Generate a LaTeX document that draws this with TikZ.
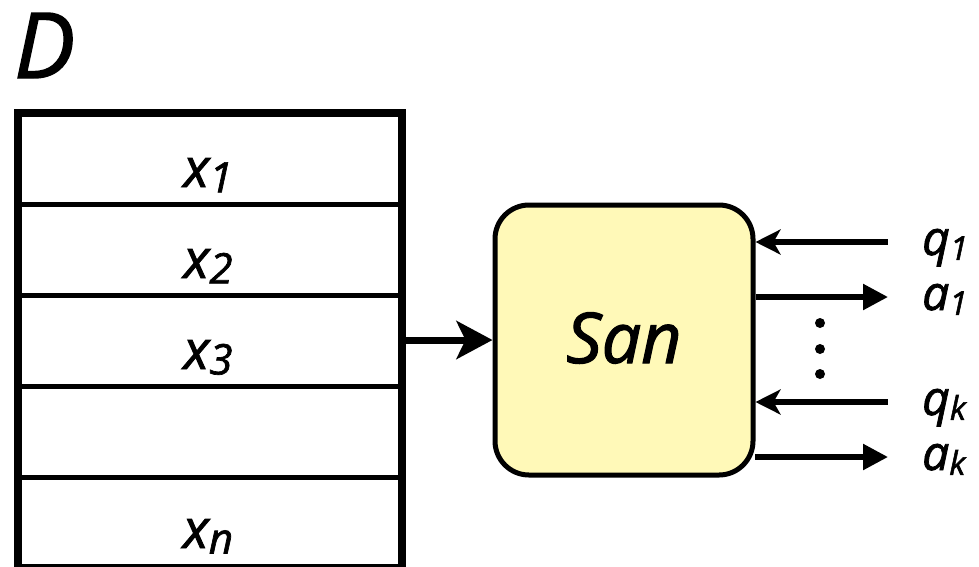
\documentclass[tikz,border=0pt]{standalone}
\usepackage{fontspec}
\setmainfont{Open Sans}
\newfontfamily\gfont{Open Sans}[FakeBold=1.6, ItalicFeatures={FakeBold=1.6}]
\usetikzlibrary{arrows.meta,fit}
\definecolor{sanfill}{RGB}{255,249,184}
\newcommand\sbs[2][0.7]{\raisebox{-0.1em}{\scalebox{#1}{#2}}}
\tikzset{
  rowbox/.style={draw, line width=5pt, minimum width=384pt, minimum height=91pt, inner sep=0pt, outer sep=0pt},
  rowtext/.style={anchor=base, inner sep=0pt, font=\fontsize{54}{54}\gfont\itshape},
  lbl/.style={anchor=base west, inner sep=0pt, font=\fontsize{48}{48}\gfont\itshape},
  dotnode/.style={circle, fill=black, inner sep=0pt, minimum size=10pt},
  inarrow/.style={line width=5.5pt, {Stealth[length=25pt,width=25pt,inset=7pt]}-},
  outarrow/.style={line width=5.5pt, -{Triangle[length=25pt,width=25pt]}}
}
\begin{document}
\begin{tikzpicture}[x=1pt,y=-1pt]
\useasboundingbox (0,0) rectangle (979,566);
% label D
\node[anchor=base west, inner sep=0pt, font=\fontsize{91}{91}\gfont\itshape] (dlabel) at (14,78) {D};
% table rows
\node[rowbox] (r1) at (210,158.5) {};
\node[rowbox] (r2) at (210,249.5) {};
\node[rowbox] (r3) at (210,340.5) {};
\node[rowbox] (r4) at (210,431.5) {};
\node[rowbox] (r5) at (210,522.5) {};
\node[draw, line width=8pt, fit=(r1)(r5), inner sep=0pt] (table) {};
\node[rowtext] (t1) at (208,187) {x\sbs[0.78]{1}};
\node[rowtext] (t2) at (208,278) {x\sbs[0.78]{2}};
\node[rowtext] (t3) at (208,369) {x\sbs[0.78]{3}};
\node[rowtext] (tn) at (208,548) {x\sbs[0.78]{n}};
% San box
\node[draw, line width=5pt, fill=sanfill, rounded corners=34pt, minimum width=258pt, minimum height=270pt, inner sep=0pt] (san) at (624,340) {};
\node[anchor=base, inner sep=0pt, font=\fontsize{70}{70}\gfont\itshape] (santext) at (624,363) {San};
% main arrow
\draw[line width=7pt, -{Stealth[length=36pt,width=38pt,inset=9pt]}] (table.east |- san.west) -- (san.west);
% right side arrows
\coordinate (q1e) at (888,242);
\coordinate (a1e) at (888,297);
\coordinate (qke) at (888,402);
\coordinate (ake) at (888,457);
\coordinate (aks) at (755,457);
\draw[inarrow] (san.east |- q1e) -- (q1e);
\draw[outarrow] (san.east |- a1e) -- (a1e);
\draw[inarrow] (san.east |- qke) -- (qke);
\draw[outarrow] (aks) -- (ake);
% labels
\node[lbl] (q1) at (922,255) {q\sbs[0.68]{1}};
\node[lbl] (a1) at (922,310) {a\sbs[0.68]{1}};
\node[lbl] (qk) at (922,415) {q\sbs[0.68]{k}};
\node[lbl] (ak) at (922,470) {a\sbs[0.68]{k}};
% dots
\node[dotnode] (d1) at (820,323) {};
\node[dotnode] (d2) at (820,349) {};
\node[dotnode] (d3) at (820,374) {};
\end{tikzpicture}
\end{document}
